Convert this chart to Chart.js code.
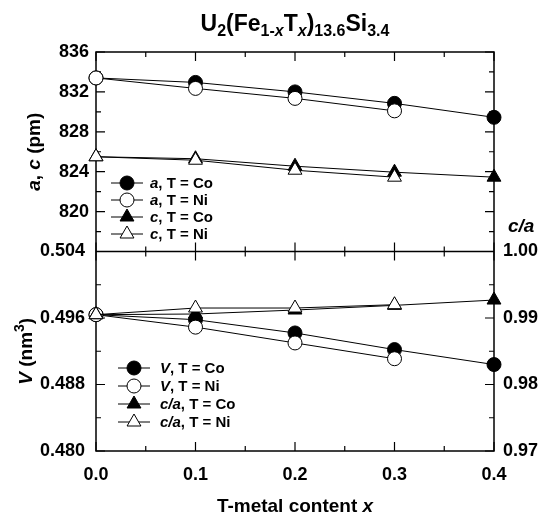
<!DOCTYPE html>
<html>
<head>
<meta charset="utf-8">
<script src="https://cdn.jsdelivr.net/npm/chart.js@4/dist/chart.umd.min.js"></script>
<style>
  html, body { margin: 0; padding: 0; background: #fff; }
  canvas { display: block; }
</style>
</head>
<body>
<canvas id="chart" width="543" height="517"></canvas>
<script>
// T-metal content x
const xContent = [0.0, 0.1, 0.2, 0.3, 0.4];

// lattice parameters a and c (pm)
const aCo = [833.4, 832.95, 832.0, 830.85, 829.45];
const aNi = [833.4, 832.35, 831.35, 830.1];
const cCo = [825.5, 825.3, 824.55, 823.95, 823.45];
const cNi = [825.5, 825.15, 824.15, 823.45];

// unit-cell volume V (nm^3)
const vCo = [0.4964, 0.4958, 0.4942, 0.4922, 0.4904];
const vNi = [0.4964, 0.4949, 0.4930, 0.4911];

// axial ratio c/a
const caCo = [0.9905, 0.9906, 0.9912, 0.9919, 0.9927];
const caNi = [0.9905, 0.9915, 0.9915, 0.9920];

// tick labels
const xTicks = [0.0, 0.1, 0.2, 0.3, 0.4];
const xTickLabels = ['0.0', '0.1', '0.2', '0.3', '0.4'];
const acTicks = [836, 832, 828, 824, 820];
const acTickLabels = ['836', '832', '828', '824', '820'];
const vTicks = [0.504, 0.496, 0.488, 0.480];
const vTickLabels = ['0.504', '0.496', '0.488', '0.480'];
const caTicks = [1.00, 0.99, 0.98, 0.97];
const caTickLabels = ['1.00', '0.99', '0.98', '0.97'];

const FONT = '"Liberation Sans", Arial, Helvetica, sans-serif';

function pts(ys) { return ys.map((y, i) => ({ x: xContent[i], y })); }

function series(label, ys, axis, style, filled, legend, order) {
  return {
    label, data: pts(ys), yAxisID: axis, order,
    borderColor: '#000', borderWidth: 1, tension: 0, clip: false,
    pointStyle: style,
    pointRadius: style === 'triangle' ? 8 : 7,
    pointBackgroundColor: filled ? '#000' : '#fff',
    pointBorderColor: '#000', pointBorderWidth: 1,
    legendText: legend
  };
}

const datasets = [
  series('a, T = Co', aCo, 'yA', 'circle', true, [{ t: 'a', i: 1 }, { t: ', T = Co' }], 4),
  series('a, T = Ni', aNi, 'yA', 'circle', false, [{ t: 'a', i: 1 }, { t: ', T = Ni' }], 3),
  series('c, T = Co', cCo, 'yA', 'triangle', true, [{ t: 'c', i: 1 }, { t: ', T = Co' }], 2),
  series('c, T = Ni', cNi, 'yA', 'triangle', false, [{ t: 'c', i: 1 }, { t: ', T = Ni' }], 1),
  series('V, T = Co', vCo, 'yV', 'circle', true, [{ t: 'V', i: 1 }, { t: ', T = Co' }], 8),
  series('V, T = Ni', vNi, 'yV', 'circle', false, [{ t: 'V', i: 1 }, { t: ', T = Ni' }], 7),
  series('c/a, T = Co', caCo, 'yR', 'triangle', true, [{ t: 'c/a', i: 1 }, { t: ', T = Co' }], 6),
  series('c/a, T = Ni', caNi, 'yR', 'triangle', false, [{ t: 'c/a', i: 1 }, { t: ', T = Ni' }], 5)
];

function fontOf(s, size) {
  return (s.i ? 'italic ' : '') + 'bold ' + (s.size || size) + 'px ' + FONT;
}
function richWidth(ctx, segs, size) {
  let w = 0;
  for (const s of segs) { ctx.font = fontOf(s, size); w += ctx.measureText(s.t).width; }
  return w;
}
function drawRich(ctx, segs, x, y, align, size) {
  const w = richWidth(ctx, segs, size);
  let cx = align === 'center' ? x - w / 2 : align === 'right' ? x - w : x;
  ctx.textAlign = 'left';
  for (const s of segs) {
    ctx.font = fontOf(s, size);
    ctx.fillText(s.t, cx, y + (s.dy || 0));
    cx += ctx.measureText(s.t).width;
  }
}

function steps(from, to, step) {
  const out = [];
  const n = Math.round((to - from) / step);
  for (let k = 0; k <= n; k++) out.push(+(from + k * step).toFixed(6));
  return out;
}
function isMajor(v, major) {
  const r = v / major;
  return Math.abs(r - Math.round(r)) < 1e-6;
}

const MAJOR = 9, MINOR = 5;

const frame = {
  id: 'frame',
  beforeDatasetsDraw(chart) {
    const { ctx, chartArea: ca, scales } = chart;
    const sx = scales.x, sA = scales.yA, sV = scales.yV, sR = scales.yR;
    const mid = sA.getPixelForValue(816);
    ctx.save();
    ctx.strokeStyle = '#000';
    ctx.lineWidth = 1.5;
    ctx.strokeRect(ca.left, ca.top, ca.right - ca.left, ca.bottom - ca.top);
    ctx.beginPath();
    ctx.moveTo(ca.left, mid); ctx.lineTo(ca.right, mid);
    ctx.stroke();

    ctx.lineWidth = 1.2;
    ctx.beginPath();
    // x ticks: top edge, panel boundary (both sides), bottom edge
    for (const v of steps(0, 0.4, 0.05)) {
      const px = sx.getPixelForValue(v);
      const len = isMajor(v, 0.1) ? MAJOR : MINOR;
      ctx.moveTo(px, ca.top); ctx.lineTo(px, ca.top + len);
      ctx.moveTo(px, mid - len); ctx.lineTo(px, mid + len);
      ctx.moveTo(px, ca.bottom); ctx.lineTo(px, ca.bottom - len);
    }
    // upper panel: a, c on both sides
    for (const v of steps(818, 836, 2)) {
      const py = sA.getPixelForValue(v);
      const len = isMajor(v, 4) ? MAJOR : MINOR;
      ctx.moveTo(ca.left, py); ctx.lineTo(ca.left + len, py);
      ctx.moveTo(ca.right, py); ctx.lineTo(ca.right - len, py);
    }
    // lower panel: V on the left
    for (const v of steps(0.480, 0.504, 0.004)) {
      const py = sV.getPixelForValue(v);
      const len = isMajor(v, 0.008) ? MAJOR : MINOR;
      ctx.moveTo(ca.left, py); ctx.lineTo(ca.left + len, py);
    }
    // lower panel: c/a on the right
    for (const v of steps(0.97, 1.00, 0.005)) {
      const py = sR.getPixelForValue(v);
      const len = isMajor(v, 0.01) ? MAJOR : MINOR;
      ctx.moveTo(ca.right, py); ctx.lineTo(ca.right - len, py);
    }
    ctx.stroke();
    ctx.restore();
  },
  afterDatasetsDraw(chart) {
    const { ctx, chartArea: ca, scales } = chart;
    const sx = scales.x, sA = scales.yA, sV = scales.yV, sR = scales.yR;
    ctx.save();
    ctx.fillStyle = '#000';

    // tick labels
    ctx.font = 'bold 18px ' + FONT;
    ctx.textBaseline = 'middle';
    ctx.textAlign = 'right';
    acTicks.forEach((v, i) => ctx.fillText(acTickLabels[i], ca.left - 7, sA.getPixelForValue(v)));
    vTicks.forEach((v, i) => ctx.fillText(vTickLabels[i], ca.left - 11, sV.getPixelForValue(v)));
    ctx.textAlign = 'left';
    caTicks.forEach((v, i) => ctx.fillText(caTickLabels[i], ca.right + 9, sR.getPixelForValue(v)));
    ctx.textAlign = 'center';
    xTicks.forEach((v, i) => ctx.fillText(xTickLabels[i], sx.getPixelForValue(v), ca.bottom + 24));

    // titles
    ctx.textBaseline = 'alphabetic';
    drawRich(ctx, [
      { t: 'U' }, { t: '2', size: 16, dy: 5 }, { t: '(Fe' },
      { t: '1-', size: 16, dy: 5 }, { t: 'x', size: 16, dy: 5, i: 1 },
      { t: 'T' }, { t: 'x', size: 16, dy: 5, i: 1 }, { t: ')' },
      { t: '13.6', size: 16, dy: 5 }, { t: 'Si' }, { t: '3.4', size: 16, dy: 5 }
    ], (ca.left + ca.right) / 2, 31, 'center', 23);

    drawRich(ctx, [{ t: 'T-metal content ' }, { t: 'x', i: 1 }],
      (ca.left + ca.right) / 2, 512, 'center', 19);

    drawRich(ctx, [{ t: 'c/a', i: 1 }], ca.right + 14, 232, 'left', 19);

    const topMid = (ca.top + sA.getPixelForValue(816)) / 2;
    const botMid = (sA.getPixelForValue(816) + ca.bottom) / 2;
    ctx.save();
    ctx.translate(40, topMid);
    ctx.rotate(-Math.PI / 2);
    drawRich(ctx, [{ t: 'a', i: 1 }, { t: ', ' }, { t: 'c', i: 1 }, { t: ' (pm)' }], 0, 0, 'center', 19);
    ctx.restore();
    ctx.save();
    ctx.translate(32, botMid);
    ctx.rotate(-Math.PI / 2);
    drawRich(ctx, [{ t: 'V', i: 1 }, { t: ' (nm' }, { t: '3', size: 14, dy: -8 }, { t: ')' }], 0, 0, 'center', 19);
    ctx.restore();

    // legends
    const legends = [
      { sets: [0, 1, 2, 3], rows: [183, 200, 217, 234], x0: 111, x1: 143, tx: 150 },
      { sets: [4, 5, 6, 7], rows: [368, 386, 404, 422], x0: 118, x1: 150, tx: 160 }
    ];
    for (const lg of legends) {
      lg.sets.forEach((di, r) => {
        const ds = chart.data.datasets[di];
        const y = lg.rows[r];
        ctx.strokeStyle = '#000';
        ctx.lineWidth = 1;
        ctx.beginPath();
        ctx.moveTo(lg.x0, y); ctx.lineTo(lg.x1, y);
        ctx.stroke();
        ctx.fillStyle = ds.pointBackgroundColor;
        ctx.strokeStyle = ds.pointBorderColor;
        ctx.lineWidth = ds.pointBorderWidth;
        Chart.helpers.drawPoint(ctx, {
          pointStyle: ds.pointStyle, radius: ds.pointRadius, rotation: 0,
          borderWidth: ds.pointBorderWidth
        }, (lg.x0 + lg.x1) / 2, y);
        ctx.fillStyle = '#000';
        ctx.textBaseline = 'middle';
        drawRich(ctx, ds.legendText, lg.tx, y + 1, 'left', 15);
      });
    }
    ctx.restore();
  }
};

new Chart(document.getElementById('chart'), {
  type: 'line',
  data: { datasets },
  options: {
    responsive: false,
    animation: false,
    devicePixelRatio: 1,
    layout: { padding: { left: 96, right: 49, top: 52, bottom: 66 } },
    plugins: { legend: { display: false }, tooltip: { enabled: false }, title: { display: false } },
    scales: {
      x: { type: 'linear', min: 0, max: 0.4, display: false },
      yA: { type: 'linear', min: 796, max: 836, display: false },
      yV: { type: 'linear', min: 0.480, max: 0.528, display: false },
      yR: { type: 'linear', min: 0.97, max: 1.03, display: false }
    }
  },
  plugins: [frame]
});
</script>
</body>
</html>
